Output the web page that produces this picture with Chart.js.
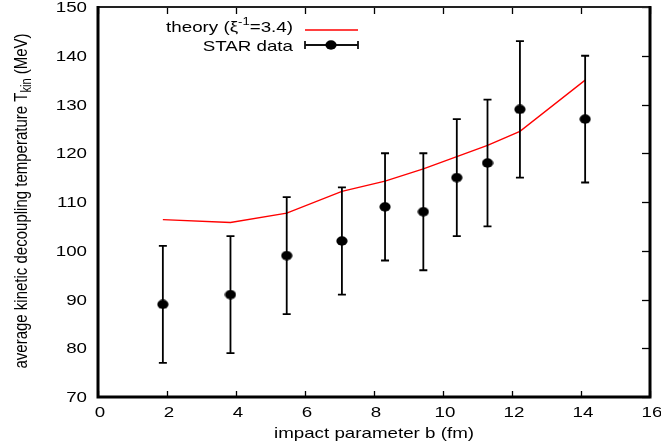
<!DOCTYPE html>
<html>
<head>
<meta charset="utf-8">
<script src="https://cdn.jsdelivr.net/npm/chart.js@4.4.0/dist/chart.umd.min.js"></script>
<style>
  html, body { margin: 0; padding: 0; background: #fff; overflow: hidden; }
  #wrap { width: 661px; height: 448px; position: relative; }
</style>
</head>
<body>
<div id="wrap"><canvas id="plot"></canvas></div>
<script>
// impact parameter b (fm) and the measured temperatures
const impactB = [1.88, 3.84, 5.47, 7.07, 8.32, 9.43, 10.4, 11.29, 12.23, 14.12];
const starT = [89, 91, 99, 102, 109, 108, 115, 118, 129, 127];
const starLow = [77, 79, 87, 91, 98, 96, 103, 105, 115, 114];
const starHigh = [101, 103, 111, 113, 120, 120, 127, 131, 143, 140];

// theory curve (xi^-1 = 3.4)
const theoryB = [1.88, 3.84, 5.47, 7.07, 8.32, 9.43, 10.4, 11.29, 12.23, 14.12];
const theoryT = [106.4, 105.8, 107.7, 112.2, 114.3, 116.8, 119.3, 121.6, 124.5, 135.0];

// axis ticks
const xTicks = [0, 2, 4, 6, 8, 10, 12, 14, 16];
const yTicks = [70, 80, 90, 100, 110, 120, 130, 140, 150];

const FONT = '"Liberation Sans", Arial, Helvetica, sans-serif';
const SX = 1.25; // the original picture is stretched sideways

function txt(ctx, s, x, y, align, base, size) {
  ctx.save();
  ctx.translate(x, y);
  ctx.scale(SX, 1);
  ctx.font = size + "px " + FONT;
  ctx.textAlign = align;
  ctx.textBaseline = base;
  ctx.fillStyle = "#000";
  ctx.fillText(s, 0, 0);
  ctx.restore();
}

function textW(ctx, s, size) {
  ctx.save();
  ctx.font = size + "px " + FONT;
  const w = ctx.measureText(s).width * SX;
  ctx.restore();
  return w;
}

// filled dot, a bit wider than tall like the original
const dot = document.createElement("canvas");
dot.width = 12; dot.height = 10;
(function () {
  const c = dot.getContext("2d");
  c.fillStyle = "#000";
  c.beginPath();
  c.ellipse(6, 5, 5.6, 4.7, 0, 0, Math.PI * 2);
  c.fill();
})();

const frame = {
  id: "frame",
  afterDatasetDraw(chart, args) {
    if (args.index !== 1) return;
    // error bars go over the theory line but under the dots
    const ctx = chart.ctx, x = chart.scales.x, y = chart.scales.y;
    ctx.save();
    ctx.strokeStyle = "#000";
    ctx.lineWidth = 1.8;
    impactB.forEach((b, i) => {
      const px = x.getPixelForValue(b);
      const top = y.getPixelForValue(starHigh[i]);
      const bot = y.getPixelForValue(starLow[i]);
      ctx.beginPath();
      ctx.moveTo(px, top); ctx.lineTo(px, bot);
      ctx.moveTo(px - 4, top); ctx.lineTo(px + 4, top);
      ctx.moveTo(px - 4, bot); ctx.lineTo(px + 4, bot);
      ctx.stroke();
    });
    ctx.restore();
  },
  afterDatasetsDraw(chart) {
    const ctx = chart.ctx, a = chart.chartArea;
    const x = chart.scales.x, y = chart.scales.y;
    ctx.save();
    // ticks, pointing inward, bottom/top/right
    ctx.strokeStyle = "#000";
    ctx.lineWidth = 1.3;
    x.ticks.forEach(t => {
      const px = Math.round(x.getPixelForValue(t.value)) + 0.5;
      ctx.beginPath();
      ctx.moveTo(px, a.bottom); ctx.lineTo(px, a.bottom - 6);
      ctx.moveTo(px, a.top); ctx.lineTo(px, a.top + 7);
      ctx.stroke();
      txt(ctx, String(t.value), px + 1.5, a.bottom + 15.5, "center", "middle", 15);
    });
    y.ticks.forEach(t => {
      const py = Math.round(y.getPixelForValue(t.value)) + 0.5;
      ctx.beginPath();
      ctx.moveTo(a.right, py); ctx.lineTo(a.right - 8, py);
      ctx.stroke();
      txt(ctx, String(t.value), a.left - 11, py + 0.5, "right", "middle", 15);
    });
    // border
    ctx.lineWidth = 2;
    ctx.strokeStyle = "#222";
    ctx.beginPath();
    ctx.moveTo(a.left, a.top); ctx.lineTo(a.right, a.top);
    ctx.stroke();
    ctx.lineWidth = 3;
    ctx.strokeStyle = "#000";
    ctx.beginPath();
    ctx.moveTo(a.right, a.top - 1); ctx.lineTo(a.right, a.bottom);
    ctx.lineTo(a.left, a.bottom); ctx.lineTo(a.left, a.top - 1);
    ctx.stroke();

    // axis titles
    txt(ctx, "impact parameter b (fm)", (a.left + a.right) / 2, 434, "center", "middle", 15);

    const main = "average kinetic decoupling temperature T", sub = "kin", tail = " (MeV)";
    ctx.font = "15px " + FONT;
    const w1 = ctx.measureText(main).width;
    const w3 = ctx.measureText(tail).width;
    ctx.font = "11px " + FONT;
    const w2 = ctx.measureText(sub).width;
    const total = w1 + w2 + w3;
    ctx.save();
    ctx.translate(27, (a.top + a.bottom) / 2 - 1);
    ctx.scale(SX, 1);
    ctx.rotate(-Math.PI / 2);
    ctx.fillStyle = "#000";
    ctx.textAlign = "left";
    ctx.textBaseline = "alphabetic";
    ctx.font = "15px " + FONT;
    ctx.fillText(main, -total / 2, 0);
    ctx.font = "11px " + FONT;
    ctx.fillText(sub, -total / 2 + w1, 3);
    ctx.font = "15px " + FONT;
    ctx.fillText(tail, -total / 2 + w1 + w2, 0);
    ctx.restore();

    // key
    const kx = 293;
    const p1 = "theory (\u03be", sup = "-1", p2 = "=3.4)";
    const a1 = textW(ctx, p1, 15), a2 = textW(ctx, sup, 10.5), a3 = textW(ctx, p2, 15);
    let sx = kx - (a1 + a2 + a3);
    txt(ctx, p1, sx, 27.5, "left", "middle", 15);
    txt(ctx, sup, sx + a1, 22.5, "left", "middle", 10.5);
    txt(ctx, p2, sx + a1 + a2, 27.5, "left", "middle", 15);
    ctx.strokeStyle = "#ff0000";
    ctx.lineWidth = 1.3;
    ctx.beginPath();
    ctx.moveTo(305, 30); ctx.lineTo(358, 30);
    ctx.stroke();

    txt(ctx, "STAR data", kx, 47, "right", "middle", 15);
    ctx.strokeStyle = "#111";
    ctx.lineWidth = 1.8;
    ctx.beginPath();
    ctx.moveTo(305, 45); ctx.lineTo(358, 45);
    ctx.moveTo(305, 41); ctx.lineTo(305, 49);
    ctx.moveTo(358, 41); ctx.lineTo(358, 49);
    ctx.stroke();
    ctx.drawImage(dot, 331 - 6, 45 - 5);
    ctx.restore();
  }
};

new Chart(document.getElementById("plot"), {
  type: "scatter",
  data: {
    datasets: [
      {
        label: "STAR data",
        data: impactB.map((b, i) => ({ x: b, y: starT[i] })),
        pointStyle: dot,
        pointRadius: 6,
        showLine: false
      },
      {
        label: "theory",
        data: theoryB.map((b, i) => ({ x: b, y: theoryT[i] })),
        showLine: true,
        borderColor: "#ff0000",
        borderWidth: 1.3,
        pointRadius: 0,
        tension: 0
      }
    ]
  },
  options: {
    responsive: true,
    maintainAspectRatio: false,
    animation: false,
    devicePixelRatio: 1,
    layout: { padding: { left: 98, top: 5.5, right: 11, bottom: 51 } },
    plugins: { legend: { display: false }, tooltip: { enabled: false } },
    scales: {
      x: {
        type: "linear",
        display: false,
        min: xTicks[0],
        max: xTicks[xTicks.length - 1],
        afterBuildTicks: s => { s.ticks = xTicks.map(v => ({ value: v })); }
      },
      y: {
        type: "linear",
        display: false,
        min: yTicks[0],
        max: yTicks[yTicks.length - 1],
        afterBuildTicks: s => { s.ticks = yTicks.map(v => ({ value: v })); }
      }
    }
  },
  plugins: [frame]
});
</script>
</body>
</html>
